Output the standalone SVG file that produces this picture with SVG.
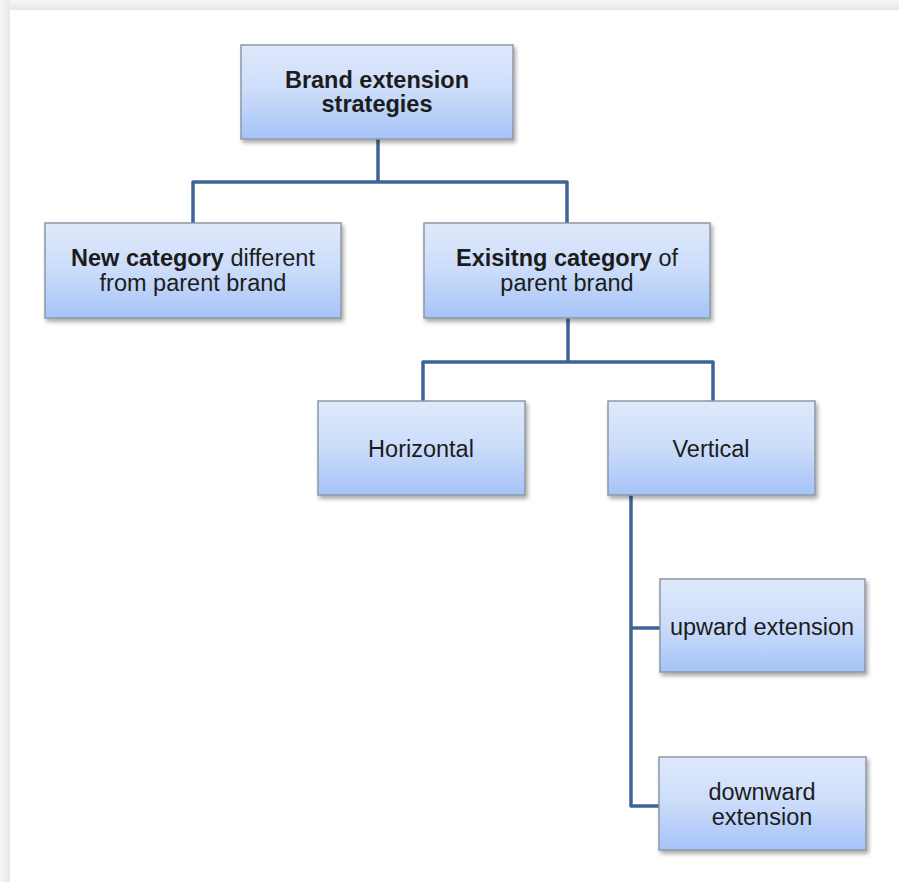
<svg xmlns="http://www.w3.org/2000/svg" width="899" height="882" viewBox="0 0 899 882">
<defs>
<linearGradient id="boxg" x1="0" y1="0" x2="0" y2="1">
<stop offset="0" stop-color="#dfe9fb"/>
<stop offset="0.5" stop-color="#cbdcfa"/>
<stop offset="1" stop-color="#a5c3f7"/>
</linearGradient>
<linearGradient id="topg" x1="0" y1="0" x2="0" y2="1">
<stop offset="0" stop-color="#f7f7f7"/>
<stop offset="1" stop-color="#e6e6e6"/>
</linearGradient>
<linearGradient id="leftg" x1="0" y1="0" x2="1" y2="0">
<stop offset="0" stop-color="#f7f7f7"/>
<stop offset="1" stop-color="#e8e8e8"/>
</linearGradient>
<filter id="sh" x="-10%" y="-10%" width="130%" height="140%">
<feDropShadow dx="2" dy="3" stdDeviation="2" flood-color="#000" flood-opacity="0.35"/>
</filter>
</defs>
<style>
.box{fill:url(#boxg);stroke:#8d98a6;stroke-width:1.5;filter:url(#sh)}
.t{font-family:"Liberation Sans",Arial,sans-serif;font-size:23.5px;fill:#1c1c1c;text-anchor:middle}
.b{font-weight:bold}
.c{fill:none;stroke:#3e6496;stroke-width:3.5;stroke-linejoin:round}
</style>
<rect x="0" y="0" width="899" height="882" fill="#ffffff"/>
<rect x="0" y="0" width="899" height="10" fill="url(#topg)"/>
<rect x="0" y="0" width="10" height="882" fill="url(#leftg)"/>
<g id="connectors">
<path class="c" d="M378 139 V182 M193 223 V182 H567 V223"/>
<path class="c" d="M568 318 V362 M423 401 V362 H713 V401"/>
<path class="c" d="M631 495 V806 H660 M631 628 H660"/>
</g>
<g id="root">
<rect class="box" x="241" y="45" width="272" height="94"/>
<text class="t b" x="377" y="88">Brand extension</text>
<text class="t b" x="377" y="112">strategies</text>
</g>
<g id="newcat">
<rect class="box" x="45" y="223" width="296" height="95"/>
<text class="t" x="193" y="266"><tspan class="b">New category</tspan> different</text>
<text class="t" x="193" y="291">from parent brand</text>
</g>
<g id="existing">
<rect class="box" x="424" y="223" width="286" height="95"/>
<text class="t" x="567" y="266"><tspan class="b">Exisitng category</tspan> of</text>
<text class="t" x="567" y="291">parent brand</text>
</g>
<g id="horizontal">
<rect class="box" x="318" y="401" width="207" height="94"/>
<text class="t" x="421" y="457">Horizontal</text>
</g>
<g id="vertical">
<rect class="box" x="608" y="401" width="207" height="94"/>
<text class="t" x="711" y="457">Vertical</text>
</g>
<g id="upward">
<rect class="box" x="660" y="579" width="205" height="93"/>
<text class="t" x="762" y="635">upward extension</text>
</g>
<g id="downward">
<rect class="box" x="659" y="757" width="207" height="93"/>
<text class="t" x="762" y="800">downward</text>
<text class="t" x="762" y="825">extension</text>
</g>
</svg>
